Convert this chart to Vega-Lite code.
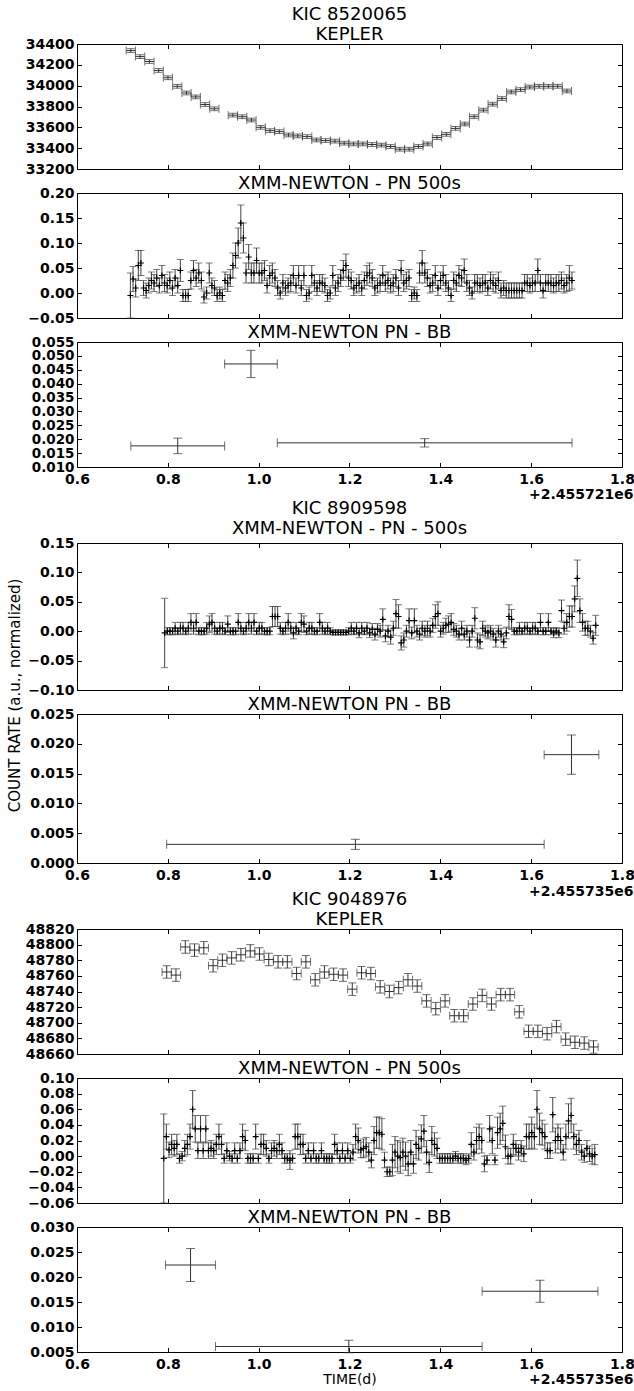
{
"$schema": "https://vega.github.io/schema/vega-lite/v6.json",
"autosize": {"type": "pad"},
"padding": {"top": 5, "left": 6, "right": 0, "bottom": 0},
"config": {
  "view": {"stroke": "black", "strokeWidth": 1},
  "font": "DejaVu Sans",
  "axis": {"grid": false, "domain": false, "ticks": true, "tickSize": -4.5, "tickColor": "black", "tickWidth": 1, "labelFont": "DejaVu Sans", "labelFontSize": 14, "labelFontWeight": "bold", "labelColor": "black", "labelPadding": 3, "labelFlush": false, "labelOverlap": false, "titleFont": "DejaVu Sans", "titleFontWeight": "normal", "titleColor": "black"},
  "title": {"font": "DejaVu Sans", "fontSize": 18, "fontWeight": "normal", "color": "black", "lineHeight": 20, "baseline": "bottom", "anchor": "middle", "frame": "group", "offset": -7}
},
"vconcat": [
{
  "width": 545, "height": 125,
  "title": {"text": ["KIC 8520065", "KEPLER"]},
  "data": {"values": [
    {"x":0.7185,"y":34337,"e":18,"xe":0.0102},{"x":0.7389,"y":34279,"e":18,"xe":0.0102},{"x":0.7594,"y":34232,"e":18,"xe":0.0102},{"x":0.7798,"y":34146,"e":18,"xe":0.0102},{"x":0.8002,"y":34076,"e":18,"xe":0.0102},{"x":0.8207,"y":33994,"e":18,"xe":0.0102},{"x":0.8411,"y":33930,"e":18,"xe":0.0102},{"x":0.8615,"y":33892,"e":18,"xe":0.0102},{"x":0.8819,"y":33819,"e":18,"xe":0.0102},{"x":0.9024,"y":33778,"e":18,"xe":0.0102},
    {"x":0.9432,"y":33717,"e":18,"xe":0.0102},{"x":0.9637,"y":33702,"e":18,"xe":0.0102},{"x":0.9841,"y":33670,"e":18,"xe":0.0102},{"x":1.0045,"y":33600,"e":18,"xe":0.0102},{"x":1.0250,"y":33568,"e":18,"xe":0.0102},{"x":1.0454,"y":33559,"e":18,"xe":0.0102},{"x":1.0658,"y":33527,"e":18,"xe":0.0102},{"x":1.0862,"y":33518,"e":18,"xe":0.0102},{"x":1.1067,"y":33511,"e":18,"xe":0.0102},{"x":1.1271,"y":33479,"e":18,"xe":0.0102},
    {"x":1.1475,"y":33473,"e":18,"xe":0.0102},{"x":1.1680,"y":33467,"e":18,"xe":0.0102},{"x":1.1884,"y":33448,"e":18,"xe":0.0102},{"x":1.2088,"y":33441,"e":18,"xe":0.0102},{"x":1.2293,"y":33441,"e":18,"xe":0.0102},{"x":1.2497,"y":33435,"e":18,"xe":0.0102},{"x":1.2701,"y":33429,"e":18,"xe":0.0102},{"x":1.2905,"y":33416,"e":18,"xe":0.0102},{"x":1.3110,"y":33390,"e":18,"xe":0.0102},{"x":1.3314,"y":33390,"e":18,"xe":0.0102},
    {"x":1.3518,"y":33416,"e":18,"xe":0.0102},{"x":1.3723,"y":33441,"e":18,"xe":0.0102},{"x":1.3927,"y":33502,"e":18,"xe":0.0102},{"x":1.4131,"y":33533,"e":18,"xe":0.0102},{"x":1.4336,"y":33590,"e":18,"xe":0.0102},{"x":1.4540,"y":33632,"e":18,"xe":0.0102},{"x":1.4744,"y":33702,"e":18,"xe":0.0102},{"x":1.4948,"y":33765,"e":18,"xe":0.0102},{"x":1.5153,"y":33822,"e":18,"xe":0.0102},{"x":1.5357,"y":33876,"e":18,"xe":0.0102},
    {"x":1.5561,"y":33940,"e":18,"xe":0.0102},{"x":1.5766,"y":33962,"e":18,"xe":0.0102},{"x":1.5970,"y":33987,"e":18,"xe":0.0102},{"x":1.6174,"y":33994,"e":18,"xe":0.0102},{"x":1.6379,"y":33994,"e":18,"xe":0.0102},{"x":1.6583,"y":33994,"e":18,"xe":0.0102},{"x":1.6787,"y":33949,"e":18,"xe":0.0102}
  ]},
  "resolve": {"axis": {"x": "independent", "y": "independent"}},
  "layer": [
    {"mark": {"type": "errorbar", "color": "#333", "thickness": 1, "ticks": {"size": 8, "color": "#333"}},
     "encoding": {
       "x": {"field": "x", "type": "quantitative", "scale": {"domain": [0.6, 1.8], "nice": false, "zero": false}, "axis": {"values": [0.6,0.8,1.0,1.2,1.4,1.6,1.8], "labels": false, "ticks": false, "title": null}},
       "y": {"field": "y", "type": "quantitative", "scale": {"domain": [33200, 34400], "nice": false, "zero": false}, "axis": {"values": [33200,33400,33600,33800,34000,34200,34400], "format": "d", "ticks": false, "title": null}},
       "yError": {"field": "e"}}},
    {"mark": {"type": "errorbar", "color": "#333", "thickness": 1, "ticks": {"size": 8, "color": "#333"}},
     "encoding": {
       "x": {"field": "x", "type": "quantitative", "axis": {"orient": "top", "values": [0.6,0.8,1.0,1.2,1.4,1.6,1.8], "labels": false, "title": null}},
       "xError": {"field": "xe"},
       "y": {"field": "y", "type": "quantitative", "axis": {"orient": "right", "values": [33200,33400,33600,33800,34000,34200,34400], "labels": false, "title": null}}}},
    {"mark": {"type": "point", "opacity": 0},
     "encoding": {
       "x": {"field": "x", "type": "quantitative", "axis": {"values": [0.6,0.8,1.0,1.2,1.4,1.6,1.8], "labels": false, "title": null}},
       "y": {"field": "y", "type": "quantitative", "axis": {"values": [33200,33400,33600,33800,34000,34200,34400], "labels": false, "title": null}}}}
  ]
},
{
  "width": 545, "height": 125,
  "title": {"text": "XMM-NEWTON - PN 500s"},
  "data": {"values": [
    {"x":0.7176,"y":-0.005,"e":0.045},{"x":0.7234,"y":0.028,"e":0.025},{"x":0.7292,"y":0.010,"e":0.018},{"x":0.7350,"y":0.055,"e":0.030},{"x":0.7407,"y":0.060,"e":0.025},{"x":0.7465,"y":0.010,"e":0.015},{"x":0.7523,"y":0.005,"e":0.015},{"x":0.7581,"y":0.015,"e":0.015},{"x":0.7639,"y":0.025,"e":0.017},{"x":0.7697,"y":0.020,"e":0.017},
    {"x":0.7755,"y":0.030,"e":0.017},{"x":0.7813,"y":0.015,"e":0.015},{"x":0.7870,"y":0.035,"e":0.020},{"x":0.7928,"y":0.020,"e":0.017},{"x":0.7986,"y":0.015,"e":0.015},{"x":0.8044,"y":0.025,"e":0.017},{"x":0.8102,"y":0.010,"e":0.015},{"x":0.8160,"y":0.030,"e":0.017},{"x":0.8218,"y":0.015,"e":0.015},{"x":0.8276,"y":0.045,"e":0.022},
    {"x":0.8333,"y":-0.005,"e":0.012},{"x":0.8391,"y":-0.005,"e":0.012},{"x":0.8449,"y":-0.005,"e":0.012},{"x":0.8507,"y":0.025,"e":0.017},{"x":0.8565,"y":0.045,"e":0.020},{"x":0.8623,"y":0.030,"e":0.017},{"x":0.8681,"y":0.040,"e":0.020},{"x":0.8739,"y":0.025,"e":0.017},{"x":0.8796,"y":-0.008,"e":0.012},{"x":0.8854,"y":0.000,"e":0.012},
    {"x":0.8912,"y":0.040,"e":0.020},{"x":0.8970,"y":0.015,"e":0.015},{"x":0.9028,"y":0.010,"e":0.015},{"x":0.9086,"y":-0.005,"e":0.012},{"x":0.9144,"y":0.000,"e":0.012},{"x":0.9201,"y":-0.005,"e":0.012},{"x":0.9259,"y":0.025,"e":0.017},{"x":0.9317,"y":0.020,"e":0.017},{"x":0.9375,"y":0.030,"e":0.017},{"x":0.9433,"y":0.055,"e":0.025},
    {"x":0.9491,"y":0.075,"e":0.025},{"x":0.9549,"y":0.100,"e":0.030},{"x":0.9607,"y":0.140,"e":0.036},{"x":0.9664,"y":0.110,"e":0.030},{"x":0.9722,"y":0.040,"e":0.020},{"x":0.9780,"y":0.072,"e":0.025},{"x":0.9838,"y":0.040,"e":0.020},{"x":0.9896,"y":0.040,"e":0.020},{"x":0.9954,"y":0.065,"e":0.025},{"x":1.0012,"y":0.040,"e":0.020},
    {"x":1.0070,"y":0.040,"e":0.020},{"x":1.0127,"y":0.045,"e":0.020},{"x":1.0185,"y":0.015,"e":0.015},{"x":1.0243,"y":0.035,"e":0.020},{"x":1.0301,"y":0.040,"e":0.020},{"x":1.0359,"y":0.030,"e":0.017},{"x":1.0417,"y":0.010,"e":0.015},{"x":1.0475,"y":0.000,"e":0.012},{"x":1.0533,"y":0.020,"e":0.017},{"x":1.0590,"y":0.010,"e":0.015},
    {"x":1.0648,"y":0.015,"e":0.015},{"x":1.0706,"y":0.020,"e":0.017},{"x":1.0764,"y":0.035,"e":0.020},{"x":1.0822,"y":0.015,"e":0.015},{"x":1.0880,"y":0.035,"e":0.020},{"x":1.0938,"y":0.010,"e":0.015},{"x":1.0996,"y":0.035,"e":0.020},{"x":1.1053,"y":-0.005,"e":0.012},{"x":1.1111,"y":0.000,"e":0.012},{"x":1.1169,"y":0.035,"e":0.020},
    {"x":1.1227,"y":0.020,"e":0.017},{"x":1.1285,"y":0.010,"e":0.015},{"x":1.1343,"y":0.020,"e":0.017},{"x":1.1401,"y":0.020,"e":0.017},{"x":1.1458,"y":0.015,"e":0.015},{"x":1.1516,"y":-0.005,"e":0.012},{"x":1.1574,"y":0.000,"e":0.012},{"x":1.1632,"y":0.035,"e":0.020},{"x":1.1690,"y":0.010,"e":0.015},{"x":1.1748,"y":0.020,"e":0.017},
    {"x":1.1806,"y":0.030,"e":0.017},{"x":1.1864,"y":0.045,"e":0.020},{"x":1.1921,"y":0.055,"e":0.023},{"x":1.1979,"y":0.030,"e":0.017},{"x":1.2037,"y":0.025,"e":0.017},{"x":1.2095,"y":0.010,"e":0.015},{"x":1.2153,"y":0.015,"e":0.015},{"x":1.2211,"y":0.020,"e":0.017},{"x":1.2269,"y":0.010,"e":0.015},{"x":1.2327,"y":0.025,"e":0.017},
    {"x":1.2384,"y":0.035,"e":0.020},{"x":1.2442,"y":0.040,"e":0.020},{"x":1.2500,"y":0.030,"e":0.017},{"x":1.2558,"y":0.010,"e":0.015},{"x":1.2616,"y":0.015,"e":0.015},{"x":1.2674,"y":0.020,"e":0.017},{"x":1.2732,"y":0.035,"e":0.020},{"x":1.2789,"y":0.020,"e":0.017},{"x":1.2847,"y":0.025,"e":0.017},{"x":1.2905,"y":0.015,"e":0.015},
    {"x":1.2963,"y":0.020,"e":0.017},{"x":1.3021,"y":0.030,"e":0.017},{"x":1.3079,"y":0.010,"e":0.015},{"x":1.3137,"y":0.045,"e":0.020},{"x":1.3195,"y":0.020,"e":0.017},{"x":1.3252,"y":0.025,"e":0.017},{"x":1.3310,"y":0.030,"e":0.017},{"x":1.3368,"y":-0.005,"e":0.012},{"x":1.3426,"y":0.000,"e":0.012},{"x":1.3484,"y":-0.005,"e":0.012},
    {"x":1.3542,"y":0.040,"e":0.020},{"x":1.3600,"y":0.060,"e":0.025},{"x":1.3658,"y":0.040,"e":0.020},{"x":1.3715,"y":0.030,"e":0.017},{"x":1.3773,"y":0.015,"e":0.015},{"x":1.3831,"y":0.020,"e":0.017},{"x":1.3889,"y":0.035,"e":0.020},{"x":1.3947,"y":0.010,"e":0.015},{"x":1.4005,"y":0.025,"e":0.017},{"x":1.4063,"y":0.035,"e":0.020},
    {"x":1.4120,"y":0.020,"e":0.017},{"x":1.4178,"y":0.010,"e":0.015},{"x":1.4236,"y":-0.005,"e":0.012},{"x":1.4294,"y":0.025,"e":0.017},{"x":1.4352,"y":0.020,"e":0.017},{"x":1.4410,"y":0.035,"e":0.020},{"x":1.4468,"y":0.030,"e":0.017},{"x":1.4526,"y":0.045,"e":0.023},{"x":1.4583,"y":0.020,"e":0.017},{"x":1.4641,"y":0.010,"e":0.015},
    {"x":1.4699,"y":0.000,"e":0.012},{"x":1.4757,"y":0.020,"e":0.017},{"x":1.4815,"y":0.020,"e":0.017},{"x":1.4873,"y":0.015,"e":0.015},{"x":1.4931,"y":0.020,"e":0.017},{"x":1.4988,"y":0.020,"e":0.017},{"x":1.5046,"y":0.010,"e":0.015},{"x":1.5104,"y":0.025,"e":0.017},{"x":1.5162,"y":0.020,"e":0.017},{"x":1.5220,"y":0.015,"e":0.015},
    {"x":1.5278,"y":0.025,"e":0.017},{"x":1.5336,"y":0.005,"e":0.015},{"x":1.5394,"y":0.010,"e":0.015},{"x":1.5451,"y":0.005,"e":0.015},{"x":1.5509,"y":0.005,"e":0.015},{"x":1.5567,"y":0.005,"e":0.015},{"x":1.5625,"y":0.005,"e":0.015},{"x":1.5683,"y":0.005,"e":0.015},{"x":1.5741,"y":0.005,"e":0.015},{"x":1.5799,"y":0.005,"e":0.015},
    {"x":1.5856,"y":0.020,"e":0.017},{"x":1.5914,"y":0.020,"e":0.017},{"x":1.5972,"y":0.015,"e":0.015},{"x":1.6030,"y":0.020,"e":0.017},{"x":1.6088,"y":0.020,"e":0.017},{"x":1.6146,"y":0.045,"e":0.023},{"x":1.6204,"y":0.020,"e":0.017},{"x":1.6262,"y":0.005,"e":0.015},{"x":1.6319,"y":0.020,"e":0.017},{"x":1.6377,"y":0.020,"e":0.017},
    {"x":1.6435,"y":0.020,"e":0.017},{"x":1.6493,"y":0.015,"e":0.015},{"x":1.6551,"y":0.020,"e":0.017},{"x":1.6609,"y":0.020,"e":0.017},{"x":1.6667,"y":0.025,"e":0.017},{"x":1.6724,"y":0.015,"e":0.015},{"x":1.6782,"y":0.020,"e":0.017},{"x":1.6840,"y":0.030,"e":0.025},{"x":1.6898,"y":0.025,"e":0.017}
  ]},
  "resolve": {"axis": {"x": "independent", "y": "independent"}},
  "layer": [
    {"mark": {"type": "errorbar", "color": "#444", "thickness": 1, "ticks": {"size": 7, "color": "#444"}},
     "encoding": {
       "x": {"field": "x", "type": "quantitative", "scale": {"domain": [0.6, 1.8], "nice": false, "zero": false}, "axis": {"values": [0.6,0.8,1.0,1.2,1.4,1.6,1.8], "labels": false, "ticks": false, "title": null}},
       "y": {"field": "y", "type": "quantitative", "scale": {"domain": [-0.05, 0.2], "nice": false, "zero": false}, "axis": {"values": [-0.05,0,0.05,0.1,0.15,0.2], "format": ".2f", "ticks": false, "title": null}},
       "yError": {"field": "e"}}},
    {"mark": {"type": "point", "shape": "M-1,0H1M0,-1V1", "filled": false, "size": 36, "color": "black", "strokeWidth": 1.2, "opacity": 1},
     "encoding": {
       "x": {"field": "x", "type": "quantitative", "axis": {"orient": "top", "values": [0.6,0.8,1.0,1.2,1.4,1.6,1.8], "labels": false, "title": null}},
       "y": {"field": "y", "type": "quantitative", "axis": {"orient": "right", "values": [-0.05,0,0.05,0.1,0.15,0.2], "labels": false, "title": null}}}},
    {"mark": {"type": "point", "opacity": 0},
     "encoding": {
       "x": {"field": "x", "type": "quantitative", "axis": {"values": [0.6,0.8,1.0,1.2,1.4,1.6,1.8], "labels": false, "title": null}},
       "y": {"field": "y", "type": "quantitative", "axis": {"values": [-0.05,0,0.05,0.1,0.15,0.2], "labels": false, "title": null}}}}
  ]
},
{
  "width": 545, "height": 125,
  "title": {"text": "XMM-NEWTON PN - BB"},
  "data": {"values": [
    {"x":0.8218,"y":0.0176,"e":0.0028,"xe":0.1033},{"x":0.9830,"y":0.0471,"e":0.0049,"xe":0.0580},{"x":1.3655,"y":0.0187,"e":0.0015,"xe":0.3245}
  ]},
  "resolve": {"axis": {"x": "independent", "y": "independent"}},
  "layer": [
    {"mark": {"type": "errorbar", "color": "#333", "thickness": 1, "ticks": {"size": 9, "color": "#333"}},
     "encoding": {
       "x": {"field": "x", "type": "quantitative", "scale": {"domain": [0.6, 1.8], "nice": false, "zero": false}, "axis": {"values": [0.6,0.8,1.0,1.2,1.4,1.6,1.8], "format": ".1f", "ticks": false, "labelPadding": 5, "title": "+2.455721e6", "titleX": 556, "titleY": 20, "titleAlign": "right", "titleBaseline": "top", "titleFontSize": 14, "titleFontWeight": "bold"}},
       "y": {"field": "y", "type": "quantitative", "scale": {"domain": [0.01, 0.055], "nice": false, "zero": false}, "axis": {"values": [0.01,0.015,0.02,0.025,0.03,0.035,0.04,0.045,0.05,0.055], "format": ".3f", "ticks": false, "labelFontSize": 13.5, "title": null}},
       "yError": {"field": "e"}}},
    {"mark": {"type": "errorbar", "color": "#333", "thickness": 1, "ticks": {"size": 9, "color": "#333"}},
     "encoding": {
       "x": {"field": "x", "type": "quantitative", "axis": {"orient": "top", "values": [0.6,0.8,1.0,1.2,1.4,1.6,1.8], "labels": false, "title": null}},
       "xError": {"field": "xe"},
       "y": {"field": "y", "type": "quantitative", "axis": {"orient": "right", "values": [0.01,0.015,0.02,0.025,0.03,0.035,0.04,0.045,0.05,0.055], "labels": false, "title": null}}}},
    {"mark": {"type": "point", "opacity": 0},
     "encoding": {
       "x": {"field": "x", "type": "quantitative", "axis": {"values": [0.6,0.8,1.0,1.2,1.4,1.6,1.8], "labels": false, "title": null}},
       "y": {"field": "y", "type": "quantitative", "axis": {"values": [0.01,0.015,0.02,0.025,0.03,0.035,0.04,0.045,0.05,0.055], "labels": false, "title": null}}}}
  ]
},
{
  "width": 545, "height": 28, "view": {"stroke": null},
  "data": {"values": [{"a": 1}]},
  "mark": {"type": "text", "text": ""}
},
{
  "width": 545, "height": 147,
  "title": {"text": ["KIC 8909598", "XMM-NEWTON - PN - 500s"], "offset": -2},
  "data": {"values": [
    {"x":0.7930,"y":-0.003,"e":0.059},{"x":0.7988,"y":0.000,"e":0.006},{"x":0.8046,"y":0.000,"e":0.006},{"x":0.8104,"y":0.000,"e":0.006},{"x":0.8161,"y":0.005,"e":0.010},{"x":0.8219,"y":0.000,"e":0.006},{"x":0.8277,"y":0.005,"e":0.010},{"x":0.8335,"y":0.005,"e":0.010},{"x":0.8393,"y":0.000,"e":0.006},{"x":0.8451,"y":0.005,"e":0.010},
    {"x":0.8509,"y":0.015,"e":0.015},{"x":0.8567,"y":0.005,"e":0.010},{"x":0.8624,"y":0.015,"e":0.015},{"x":0.8682,"y":0.000,"e":0.006},{"x":0.8740,"y":0.000,"e":0.006},{"x":0.8798,"y":0.000,"e":0.006},{"x":0.8856,"y":0.005,"e":0.010},{"x":0.8914,"y":0.012,"e":0.014},{"x":0.8972,"y":0.015,"e":0.015},{"x":0.9030,"y":0.005,"e":0.010},
    {"x":0.9087,"y":0.000,"e":0.006},{"x":0.9145,"y":0.005,"e":0.010},{"x":0.9203,"y":0.005,"e":0.010},{"x":0.9261,"y":0.000,"e":0.006},{"x":0.9319,"y":0.012,"e":0.014},{"x":0.9377,"y":0.000,"e":0.006},{"x":0.9435,"y":0.000,"e":0.006},{"x":0.9492,"y":0.000,"e":0.006},{"x":0.9550,"y":0.015,"e":0.015},{"x":0.9608,"y":0.005,"e":0.010},
    {"x":0.9666,"y":0.000,"e":0.006},{"x":0.9724,"y":0.005,"e":0.010},{"x":0.9782,"y":0.015,"e":0.015},{"x":0.9840,"y":0.005,"e":0.010},{"x":0.9898,"y":0.015,"e":0.015},{"x":0.9955,"y":0.000,"e":0.006},{"x":1.0013,"y":0.005,"e":0.010},{"x":1.0071,"y":0.005,"e":0.010},{"x":1.0129,"y":0.000,"e":0.006},{"x":1.0187,"y":0.000,"e":0.006},
    {"x":1.0245,"y":0.000,"e":0.006},{"x":1.0303,"y":0.025,"e":0.017},{"x":1.0361,"y":0.025,"e":0.017},{"x":1.0418,"y":0.025,"e":0.017},{"x":1.0476,"y":0.005,"e":0.010},{"x":1.0534,"y":0.000,"e":0.006},{"x":1.0592,"y":0.005,"e":0.010},{"x":1.0650,"y":0.015,"e":0.015},{"x":1.0708,"y":0.005,"e":0.010},{"x":1.0766,"y":-0.003,"e":0.010},
    {"x":1.0824,"y":0.005,"e":0.010},{"x":1.0881,"y":0.000,"e":0.006},{"x":1.0939,"y":0.015,"e":0.015},{"x":1.0997,"y":0.012,"e":0.014},{"x":1.1055,"y":0.000,"e":0.006},{"x":1.1113,"y":0.005,"e":0.010},{"x":1.1171,"y":0.005,"e":0.010},{"x":1.1229,"y":0.000,"e":0.006},{"x":1.1286,"y":0.000,"e":0.006},{"x":1.1344,"y":0.015,"e":0.015},
    {"x":1.1402,"y":0.005,"e":0.010},{"x":1.1460,"y":0.000,"e":0.006},{"x":1.1518,"y":0.005,"e":0.010},{"x":1.1576,"y":0.000,"e":0.006},{"x":1.1634,"y":-0.002,"e":0.004},{"x":1.1692,"y":-0.002,"e":0.004},{"x":1.1749,"y":-0.002,"e":0.004},{"x":1.1807,"y":-0.002,"e":0.004},{"x":1.1865,"y":-0.002,"e":0.004},{"x":1.1923,"y":-0.002,"e":0.004},
    {"x":1.1981,"y":0.000,"e":0.006},{"x":1.2039,"y":0.005,"e":0.010},{"x":1.2097,"y":0.000,"e":0.006},{"x":1.2155,"y":0.005,"e":0.010},{"x":1.2212,"y":-0.003,"e":0.008},{"x":1.2270,"y":0.005,"e":0.010},{"x":1.2328,"y":0.000,"e":0.006},{"x":1.2386,"y":0.005,"e":0.010},{"x":1.2444,"y":-0.003,"e":0.008},{"x":1.2502,"y":0.003,"e":0.010},
    {"x":1.2560,"y":-0.005,"e":0.010},{"x":1.2617,"y":0.003,"e":0.010},{"x":1.2675,"y":0.000,"e":0.010},{"x":1.2733,"y":0.020,"e":0.018},{"x":1.2791,"y":-0.008,"e":0.010},{"x":1.2849,"y":0.000,"e":0.010},{"x":1.2907,"y":-0.010,"e":0.012},{"x":1.2965,"y":0.005,"e":0.012},{"x":1.3023,"y":0.030,"e":0.024},{"x":1.3080,"y":0.025,"e":0.020},
    {"x":1.3138,"y":-0.020,"e":0.012},{"x":1.3196,"y":-0.015,"e":0.012},{"x":1.3254,"y":0.000,"e":0.010},{"x":1.3312,"y":0.018,"e":0.020},{"x":1.3370,"y":-0.003,"e":0.010},{"x":1.3428,"y":0.018,"e":0.020},{"x":1.3486,"y":0.000,"e":0.010},{"x":1.3543,"y":-0.005,"e":0.010},{"x":1.3601,"y":0.005,"e":0.012},{"x":1.3659,"y":0.000,"e":0.010},
    {"x":1.3717,"y":0.005,"e":0.012},{"x":1.3775,"y":0.000,"e":0.010},{"x":1.3833,"y":0.010,"e":0.012},{"x":1.3891,"y":0.025,"e":0.020},{"x":1.3948,"y":0.030,"e":0.020},{"x":1.4006,"y":0.000,"e":0.010},{"x":1.4064,"y":0.005,"e":0.010},{"x":1.4122,"y":0.010,"e":0.012},{"x":1.4180,"y":0.012,"e":0.014},{"x":1.4238,"y":0.015,"e":0.015},
    {"x":1.4296,"y":0.003,"e":0.010},{"x":1.4354,"y":0.000,"e":0.010},{"x":1.4411,"y":-0.005,"e":0.010},{"x":1.4469,"y":0.005,"e":0.012},{"x":1.4527,"y":-0.005,"e":0.010},{"x":1.4585,"y":0.000,"e":0.010},{"x":1.4643,"y":-0.015,"e":0.012},{"x":1.4701,"y":0.000,"e":0.010},{"x":1.4759,"y":0.022,"e":0.018},{"x":1.4817,"y":-0.015,"e":0.012},
    {"x":1.4874,"y":-0.018,"e":0.012},{"x":1.4932,"y":0.005,"e":0.012},{"x":1.4990,"y":0.000,"e":0.010},{"x":1.5048,"y":-0.003,"e":0.010},{"x":1.5106,"y":0.000,"e":0.010},{"x":1.5164,"y":-0.005,"e":0.010},{"x":1.5222,"y":-0.015,"e":0.012},{"x":1.5279,"y":0.000,"e":0.010},{"x":1.5337,"y":-0.005,"e":0.010},{"x":1.5395,"y":-0.018,"e":0.010},
    {"x":1.5453,"y":-0.003,"e":0.010},{"x":1.5511,"y":0.025,"e":0.020},{"x":1.5569,"y":0.020,"e":0.017},{"x":1.5627,"y":0.000,"e":0.006},{"x":1.5685,"y":0.000,"e":0.006},{"x":1.5742,"y":0.005,"e":0.010},{"x":1.5800,"y":0.000,"e":0.006},{"x":1.5858,"y":0.005,"e":0.010},{"x":1.5916,"y":0.005,"e":0.010},{"x":1.5974,"y":0.000,"e":0.006},
    {"x":1.6032,"y":0.005,"e":0.010},{"x":1.6090,"y":0.005,"e":0.010},{"x":1.6148,"y":0.000,"e":0.006},{"x":1.6205,"y":0.015,"e":0.015},{"x":1.6263,"y":0.000,"e":0.006},{"x":1.6321,"y":0.000,"e":0.006},{"x":1.6379,"y":0.015,"e":0.015},{"x":1.6437,"y":0.000,"e":0.006},{"x":1.6495,"y":-0.003,"e":0.008},{"x":1.6553,"y":0.000,"e":0.006},
    {"x":1.6610,"y":-0.003,"e":0.008},{"x":1.6668,"y":0.035,"e":0.018},{"x":1.6726,"y":0.005,"e":0.010},{"x":1.6784,"y":0.015,"e":0.015},{"x":1.6842,"y":0.025,"e":0.018},{"x":1.6900,"y":0.025,"e":0.018},{"x":1.6958,"y":0.055,"e":0.022},{"x":1.7016,"y":0.090,"e":0.031},{"x":1.7073,"y":0.035,"e":0.020},{"x":1.7131,"y":0.015,"e":0.015},
    {"x":1.7189,"y":0.005,"e":0.012},{"x":1.7247,"y":0.005,"e":0.012},{"x":1.7305,"y":0.000,"e":0.010},{"x":1.7363,"y":-0.012,"e":0.010},{"x":1.7421,"y":0.010,"e":0.017}
  ]},
  "resolve": {"axis": {"x": "independent", "y": "independent"}},
  "layer": [
    {"mark": {"type": "errorbar", "color": "#444", "thickness": 1, "ticks": {"size": 7, "color": "#444"}},
     "encoding": {
       "x": {"field": "x", "type": "quantitative", "scale": {"domain": [0.6, 1.8], "nice": false, "zero": false}, "axis": {"values": [0.6,0.8,1.0,1.2,1.4,1.6,1.8], "labels": false, "ticks": false, "title": null}},
       "y": {"field": "y", "type": "quantitative", "scale": {"domain": [-0.1, 0.15], "nice": false, "zero": false}, "axis": {"values": [-0.1,-0.05,0,0.05,0.1,0.15], "format": ".2f", "ticks": false, "title": "COUNT RATE (a.u., normalized)", "titleFontSize": 15, "titleAngle": -90, "titleX": -63, "titleY": 152, "titleAlign": "center", "titleBaseline": "middle"}},
       "yError": {"field": "e"}}},
    {"mark": {"type": "point", "shape": "M-1,0H1M0,-1V1", "filled": false, "size": 36, "color": "black", "strokeWidth": 1.2, "opacity": 1},
     "encoding": {
       "x": {"field": "x", "type": "quantitative", "axis": {"orient": "top", "values": [0.6,0.8,1.0,1.2,1.4,1.6,1.8], "labels": false, "title": null}},
       "y": {"field": "y", "type": "quantitative", "axis": {"orient": "right", "values": [-0.1,-0.05,0,0.05,0.1,0.15], "labels": false, "title": null}}}},
    {"mark": {"type": "point", "opacity": 0},
     "encoding": {
       "x": {"field": "x", "type": "quantitative", "axis": {"values": [0.6,0.8,1.0,1.2,1.4,1.6,1.8], "labels": false, "title": null}},
       "y": {"field": "y", "type": "quantitative", "axis": {"values": [-0.1,-0.05,0,0.05,0.1,0.15], "labels": false, "title": null}}}}
  ]
},
{
  "width": 545, "height": 149,
  "title": {"text": "XMM-NEWTON PN - BB"},
  "data": {"values": [
    {"x":1.2130,"y":0.00313,"e":0.00085,"xe":0.4156},{"x":1.6888,"y":0.01818,"e":0.0033,"xe":0.0602}
  ]},
  "resolve": {"axis": {"x": "independent", "y": "independent"}},
  "layer": [
    {"mark": {"type": "errorbar", "color": "#333", "thickness": 1, "ticks": {"size": 9, "color": "#333"}},
     "encoding": {
       "x": {"field": "x", "type": "quantitative", "scale": {"domain": [0.6, 1.8], "nice": false, "zero": false}, "axis": {"values": [0.6,0.8,1.0,1.2,1.4,1.6,1.8], "format": ".1f", "ticks": false, "labelPadding": 5, "title": "+2.455735e6", "titleX": 556, "titleY": 21, "titleAlign": "right", "titleBaseline": "top", "titleFontSize": 14, "titleFontWeight": "bold"}},
       "y": {"field": "y", "type": "quantitative", "scale": {"domain": [0, 0.025], "nice": false, "zero": false}, "axis": {"values": [0,0.005,0.01,0.015,0.02,0.025], "format": ".3f", "ticks": false, "title": null}},
       "yError": {"field": "e"}}},
    {"mark": {"type": "errorbar", "color": "#333", "thickness": 1, "ticks": {"size": 9, "color": "#333"}},
     "encoding": {
       "x": {"field": "x", "type": "quantitative", "axis": {"orient": "top", "values": [0.6,0.8,1.0,1.2,1.4,1.6,1.8], "labels": false, "title": null}},
       "xError": {"field": "xe"},
       "y": {"field": "y", "type": "quantitative", "axis": {"orient": "right", "values": [0,0.005,0.01,0.015,0.02,0.025], "labels": false, "title": null}}}},
    {"mark": {"type": "point", "opacity": 0},
     "encoding": {
       "x": {"field": "x", "type": "quantitative", "axis": {"values": [0.6,0.8,1.0,1.2,1.4,1.6,1.8], "labels": false, "title": null}},
       "y": {"field": "y", "type": "quantitative", "axis": {"values": [0,0.005,0.01,0.015,0.02,0.025], "labels": false, "title": null}}}}
  ]
},
{
  "width": 545, "height": 18, "view": {"stroke": null},
  "data": {"values": [{"a": 1}]},
  "mark": {"type": "text", "text": ""}
},
{
  "width": 545, "height": 125,
  "title": {"text": ["KIC 9048976", "KEPLER"]},
  "data": {"values": [
    {"x":0.7975,"y":48765,"e":8,"xe":0.0102},{"x":0.8179,"y":48761,"e":8,"xe":0.0102},{"x":0.8384,"y":48797,"e":8,"xe":0.0102},{"x":0.8588,"y":48793,"e":8,"xe":0.0102},{"x":0.8792,"y":48796,"e":8,"xe":0.0102},{"x":0.8997,"y":48773,"e":8,"xe":0.0102},{"x":0.9201,"y":48780,"e":8,"xe":0.0102},{"x":0.9405,"y":48783,"e":8,"xe":0.0102},{"x":0.9609,"y":48787,"e":8,"xe":0.0102},{"x":0.9814,"y":48792,"e":8,"xe":0.0102},
    {"x":1.0018,"y":48788,"e":8,"xe":0.0102},{"x":1.0222,"y":48781,"e":8,"xe":0.0102},{"x":1.0427,"y":48778,"e":8,"xe":0.0102},{"x":1.0631,"y":48778,"e":8,"xe":0.0102},{"x":1.0835,"y":48763,"e":8,"xe":0.0102},{"x":1.1040,"y":48778,"e":8,"xe":0.0102},{"x":1.1244,"y":48755,"e":8,"xe":0.0102},{"x":1.1448,"y":48765,"e":8,"xe":0.0102},{"x":1.1652,"y":48762,"e":8,"xe":0.0102},{"x":1.1857,"y":48761,"e":8,"xe":0.0102},
    {"x":1.2061,"y":48743,"e":8,"xe":0.0102},{"x":1.2265,"y":48764,"e":8,"xe":0.0102},{"x":1.2470,"y":48763,"e":8,"xe":0.0102},{"x":1.2674,"y":48746,"e":8,"xe":0.0102},{"x":1.2878,"y":48740,"e":8,"xe":0.0102},{"x":1.3083,"y":48745,"e":8,"xe":0.0102},{"x":1.3287,"y":48755,"e":8,"xe":0.0102},{"x":1.3491,"y":48747,"e":8,"xe":0.0102},{"x":1.3695,"y":48728,"e":8,"xe":0.0102},{"x":1.3900,"y":48718,"e":8,"xe":0.0102},
    {"x":1.4104,"y":48728,"e":8,"xe":0.0102},{"x":1.4308,"y":48709,"e":8,"xe":0.0102},{"x":1.4513,"y":48709,"e":8,"xe":0.0102},{"x":1.4717,"y":48724,"e":8,"xe":0.0102},{"x":1.4921,"y":48735,"e":8,"xe":0.0102},{"x":1.5126,"y":48724,"e":8,"xe":0.0102},{"x":1.5330,"y":48736,"e":8,"xe":0.0102},{"x":1.5534,"y":48736,"e":8,"xe":0.0102},{"x":1.5738,"y":48714,"e":8,"xe":0.0102},{"x":1.5943,"y":48689,"e":8,"xe":0.0102},
    {"x":1.6147,"y":48689,"e":8,"xe":0.0102},{"x":1.6351,"y":48686,"e":8,"xe":0.0102},{"x":1.6556,"y":48695,"e":8,"xe":0.0102},{"x":1.6760,"y":48679,"e":8,"xe":0.0102},{"x":1.6964,"y":48675,"e":8,"xe":0.0102},{"x":1.7168,"y":48674,"e":8,"xe":0.0102},{"x":1.7373,"y":48669,"e":8,"xe":0.0102}
  ]},
  "resolve": {"axis": {"x": "independent", "y": "independent"}},
  "layer": [
    {"mark": {"type": "errorbar", "color": "#333", "thickness": 1, "ticks": {"size": 8, "color": "#333"}},
     "encoding": {
       "x": {"field": "x", "type": "quantitative", "scale": {"domain": [0.6, 1.8], "nice": false, "zero": false}, "axis": {"values": [0.6,0.8,1.0,1.2,1.4,1.6,1.8], "labels": false, "ticks": false, "title": null}},
       "y": {"field": "y", "type": "quantitative", "scale": {"domain": [48660, 48820], "nice": false, "zero": false}, "axis": {"values": [48660,48680,48700,48720,48740,48760,48780,48800,48820], "format": "d", "ticks": false, "title": null}},
       "yError": {"field": "e"}}},
    {"mark": {"type": "errorbar", "color": "#333", "thickness": 1, "ticks": {"size": 8, "color": "#333"}},
     "encoding": {
       "x": {"field": "x", "type": "quantitative", "axis": {"orient": "top", "values": [0.6,0.8,1.0,1.2,1.4,1.6,1.8], "labels": false, "title": null}},
       "xError": {"field": "xe"},
       "y": {"field": "y", "type": "quantitative", "axis": {"orient": "right", "values": [48660,48680,48700,48720,48740,48760,48780,48800,48820], "labels": false, "title": null}}}},
    {"mark": {"type": "point", "opacity": 0},
     "encoding": {
       "x": {"field": "x", "type": "quantitative", "axis": {"values": [0.6,0.8,1.0,1.2,1.4,1.6,1.8], "labels": false, "title": null}},
       "y": {"field": "y", "type": "quantitative", "axis": {"values": [48660,48680,48700,48720,48740,48760,48780,48800,48820], "labels": false, "title": null}}}}
  ]
},
{
  "width": 545, "height": 125,
  "title": {"text": "XMM-NEWTON - PN 500s"},
  "data": {"values": [
    {"x":0.7910,"y":-0.003,"e":0.057},{"x":0.7968,"y":0.025,"e":0.016},{"x":0.8026,"y":0.008,"e":0.010},{"x":0.8084,"y":0.015,"e":0.013},{"x":0.8141,"y":0.010,"e":0.010},{"x":0.8199,"y":0.015,"e":0.013},{"x":0.8257,"y":-0.003,"e":0.006},{"x":0.8315,"y":0.000,"e":0.006},{"x":0.8373,"y":0.010,"e":0.010},{"x":0.8431,"y":0.015,"e":0.013},
    {"x":0.8489,"y":0.025,"e":0.016},{"x":0.8547,"y":0.060,"e":0.024},{"x":0.8604,"y":0.035,"e":0.017},{"x":0.8662,"y":0.007,"e":0.010},{"x":0.8720,"y":0.035,"e":0.017},{"x":0.8778,"y":0.007,"e":0.010},{"x":0.8836,"y":0.035,"e":0.017},{"x":0.8894,"y":0.007,"e":0.010},{"x":0.8952,"y":0.010,"e":0.010},{"x":0.9010,"y":0.007,"e":0.010},
    {"x":0.9067,"y":0.015,"e":0.013},{"x":0.9125,"y":0.025,"e":0.016},{"x":0.9183,"y":0.015,"e":0.013},{"x":0.9241,"y":-0.003,"e":0.006},{"x":0.9299,"y":0.007,"e":0.010},{"x":0.9357,"y":0.000,"e":0.006},{"x":0.9415,"y":-0.003,"e":0.006},{"x":0.9472,"y":0.007,"e":0.010},{"x":0.9530,"y":-0.003,"e":0.006},{"x":0.9588,"y":0.007,"e":0.010},
    {"x":0.9646,"y":0.025,"e":0.016},{"x":0.9704,"y":0.020,"e":0.013},{"x":0.9762,"y":-0.003,"e":0.006},{"x":0.9820,"y":-0.003,"e":0.006},{"x":0.9878,"y":-0.003,"e":0.006},{"x":0.9935,"y":0.025,"e":0.016},{"x":0.9993,"y":-0.003,"e":0.006},{"x":1.0051,"y":0.015,"e":0.013},{"x":1.0109,"y":0.015,"e":0.013},{"x":1.0167,"y":0.010,"e":0.010},
    {"x":1.0225,"y":-0.003,"e":0.006},{"x":1.0283,"y":0.007,"e":0.010},{"x":1.0341,"y":0.010,"e":0.010},{"x":1.0398,"y":0.007,"e":0.010},{"x":1.0456,"y":0.015,"e":0.013},{"x":1.0514,"y":0.007,"e":0.010},{"x":1.0572,"y":-0.003,"e":0.006},{"x":1.0630,"y":-0.003,"e":0.006},{"x":1.0688,"y":-0.005,"e":0.012},{"x":1.0746,"y":-0.003,"e":0.006},
    {"x":1.0804,"y":0.025,"e":0.016},{"x":1.0861,"y":0.025,"e":0.016},{"x":1.0919,"y":0.015,"e":0.013},{"x":1.0977,"y":0.015,"e":0.013},{"x":1.1035,"y":-0.003,"e":0.006},{"x":1.1093,"y":0.007,"e":0.010},{"x":1.1151,"y":-0.003,"e":0.006},{"x":1.1209,"y":0.007,"e":0.010},{"x":1.1266,"y":-0.003,"e":0.006},{"x":1.1324,"y":-0.003,"e":0.006},
    {"x":1.1382,"y":0.007,"e":0.010},{"x":1.1440,"y":-0.003,"e":0.006},{"x":1.1498,"y":-0.003,"e":0.006},{"x":1.1556,"y":-0.003,"e":0.006},{"x":1.1614,"y":-0.003,"e":0.006},{"x":1.1672,"y":0.015,"e":0.013},{"x":1.1729,"y":0.007,"e":0.010},{"x":1.1787,"y":-0.003,"e":0.006},{"x":1.1845,"y":0.007,"e":0.010},{"x":1.1903,"y":-0.003,"e":0.006},
    {"x":1.1961,"y":0.007,"e":0.010},{"x":1.2019,"y":-0.003,"e":0.006},{"x":1.2077,"y":0.005,"e":0.010},{"x":1.2135,"y":0.025,"e":0.016},{"x":1.2192,"y":0.020,"e":0.016},{"x":1.2250,"y":0.008,"e":0.010},{"x":1.2308,"y":0.010,"e":0.012},{"x":1.2366,"y":0.012,"e":0.012},{"x":1.2424,"y":0.005,"e":0.012},{"x":1.2482,"y":-0.005,"e":0.010},
    {"x":1.2540,"y":0.020,"e":0.018},{"x":1.2597,"y":0.030,"e":0.020},{"x":1.2655,"y":0.030,"e":0.020},{"x":1.2713,"y":0.028,"e":0.020},{"x":1.2771,"y":-0.005,"e":0.010},{"x":1.2829,"y":-0.020,"e":0.006},{"x":1.2887,"y":-0.020,"e":0.006},{"x":1.2945,"y":-0.005,"e":0.020},{"x":1.3003,"y":0.005,"e":0.020},{"x":1.3060,"y":0.000,"e":0.020},
    {"x":1.3118,"y":-0.002,"e":0.020},{"x":1.3176,"y":0.005,"e":0.018},{"x":1.3234,"y":0.000,"e":0.018},{"x":1.3292,"y":-0.010,"e":0.015},{"x":1.3350,"y":0.005,"e":0.015},{"x":1.3408,"y":-0.010,"e":0.012},{"x":1.3466,"y":0.015,"e":0.018},{"x":1.3523,"y":0.010,"e":0.015},{"x":1.3581,"y":0.022,"e":0.018},{"x":1.3639,"y":0.032,"e":0.020},
    {"x":1.3697,"y":0.005,"e":0.015},{"x":1.3755,"y":-0.008,"e":0.013},{"x":1.3813,"y":0.020,"e":0.018},{"x":1.3871,"y":0.015,"e":0.015},{"x":1.3928,"y":0.010,"e":0.013},{"x":1.3986,"y":-0.003,"e":0.006},{"x":1.4044,"y":-0.003,"e":0.006},{"x":1.4102,"y":-0.003,"e":0.006},{"x":1.4160,"y":-0.003,"e":0.006},{"x":1.4218,"y":-0.003,"e":0.006},
    {"x":1.4276,"y":-0.003,"e":0.006},{"x":1.4334,"y":0.000,"e":0.006},{"x":1.4391,"y":-0.003,"e":0.006},{"x":1.4449,"y":-0.003,"e":0.006},{"x":1.4507,"y":-0.003,"e":0.006},{"x":1.4565,"y":-0.005,"e":0.006},{"x":1.4623,"y":-0.003,"e":0.006},{"x":1.4681,"y":0.015,"e":0.015},{"x":1.4739,"y":0.005,"e":0.010},{"x":1.4797,"y":0.020,"e":0.017},
    {"x":1.4854,"y":0.025,"e":0.016},{"x":1.4912,"y":0.020,"e":0.016},{"x":1.4970,"y":-0.010,"e":0.010},{"x":1.5028,"y":-0.005,"e":0.006},{"x":1.5086,"y":0.035,"e":0.017},{"x":1.5144,"y":0.020,"e":0.017},{"x":1.5202,"y":-0.005,"e":0.006},{"x":1.5259,"y":0.030,"e":0.020},{"x":1.5317,"y":0.035,"e":0.020},{"x":1.5375,"y":0.042,"e":0.022},
    {"x":1.5433,"y":0.012,"e":0.015},{"x":1.5491,"y":0.000,"e":0.010},{"x":1.5549,"y":0.000,"e":0.010},{"x":1.5607,"y":0.015,"e":0.013},{"x":1.5665,"y":0.010,"e":0.010},{"x":1.5722,"y":0.005,"e":0.010},{"x":1.5780,"y":0.010,"e":0.010},{"x":1.5838,"y":0.003,"e":0.010},{"x":1.5896,"y":0.025,"e":0.016},{"x":1.5954,"y":0.025,"e":0.016},
    {"x":1.6012,"y":0.030,"e":0.020},{"x":1.6070,"y":0.025,"e":0.016},{"x":1.6128,"y":0.060,"e":0.024},{"x":1.6185,"y":0.035,"e":0.020},{"x":1.6243,"y":0.030,"e":0.016},{"x":1.6301,"y":0.025,"e":0.016},{"x":1.6359,"y":0.007,"e":0.010},{"x":1.6417,"y":0.007,"e":0.010},{"x":1.6475,"y":0.053,"e":0.022},{"x":1.6533,"y":0.020,"e":0.016},
    {"x":1.6590,"y":0.025,"e":0.016},{"x":1.6648,"y":0.020,"e":0.016},{"x":1.6706,"y":0.005,"e":0.010},{"x":1.6764,"y":0.025,"e":0.016},{"x":1.6822,"y":0.045,"e":0.022},{"x":1.6880,"y":0.052,"e":0.022},{"x":1.6938,"y":0.025,"e":0.016},{"x":1.6996,"y":0.015,"e":0.013},{"x":1.7053,"y":0.020,"e":0.013},{"x":1.7111,"y":0.005,"e":0.010},
    {"x":1.7169,"y":0.000,"e":0.008},{"x":1.7227,"y":0.010,"e":0.010},{"x":1.7285,"y":0.003,"e":0.010},{"x":1.7343,"y":0.000,"e":0.010},{"x":1.7401,"y":0.002,"e":0.013}
  ]},
  "resolve": {"axis": {"x": "independent", "y": "independent"}},
  "layer": [
    {"mark": {"type": "errorbar", "color": "#444", "thickness": 1, "ticks": {"size": 7, "color": "#444"}},
     "encoding": {
       "x": {"field": "x", "type": "quantitative", "scale": {"domain": [0.6, 1.8], "nice": false, "zero": false}, "axis": {"values": [0.6,0.8,1.0,1.2,1.4,1.6,1.8], "labels": false, "ticks": false, "title": null}},
       "y": {"field": "y", "type": "quantitative", "scale": {"domain": [-0.06, 0.1], "nice": false, "zero": false}, "axis": {"values": [-0.06,-0.04,-0.02,0,0.02,0.04,0.06,0.08,0.1], "format": ".2f", "ticks": false, "title": null}},
       "yError": {"field": "e"}}},
    {"mark": {"type": "point", "shape": "M-1,0H1M0,-1V1", "filled": false, "size": 36, "color": "black", "strokeWidth": 1.2, "opacity": 1},
     "encoding": {
       "x": {"field": "x", "type": "quantitative", "axis": {"orient": "top", "values": [0.6,0.8,1.0,1.2,1.4,1.6,1.8], "labels": false, "title": null}},
       "y": {"field": "y", "type": "quantitative", "axis": {"orient": "right", "values": [-0.06,-0.04,-0.02,0,0.02,0.04,0.06,0.08,0.1], "labels": false, "title": null}}}},
    {"mark": {"type": "point", "opacity": 0},
     "encoding": {
       "x": {"field": "x", "type": "quantitative", "axis": {"values": [0.6,0.8,1.0,1.2,1.4,1.6,1.8], "labels": false, "title": null}},
       "y": {"field": "y", "type": "quantitative", "axis": {"values": [-0.06,-0.04,-0.02,0,0.02,0.04,0.06,0.08,0.1], "labels": false, "title": null}}}}
  ]
},
{
  "width": 545, "height": 125,
  "title": {"text": "XMM-NEWTON PN - BB"},
  "data": {"values": [
    {"x":0.8500,"y":0.0224,"e":0.0033,"xe":0.0550},{"x":1.1985,"y":0.0061,"e":0.00125,"xe":0.2935},{"x":1.6195,"y":0.01715,"e":0.0022,"xe":0.1275}
  ]},
  "resolve": {"axis": {"x": "independent", "y": "independent"}},
  "layer": [
    {"mark": {"type": "errorbar", "color": "#333", "thickness": 1, "ticks": {"size": 9, "color": "#333"}},
     "encoding": {
       "x": {"field": "x", "type": "quantitative", "scale": {"domain": [0.6, 1.8], "nice": false, "zero": false}, "axis": {"values": [0.6,0.8,1.0,1.2,1.4,1.6,1.8], "format": ".1f", "ticks": false, "labelPadding": 5, "title": "TIME(d)", "titleX": 272.5, "titleY": 20, "titleAlign": "center", "titleBaseline": "top", "titleFontSize": 14}},
       "y": {"field": "y", "type": "quantitative", "scale": {"domain": [0.005, 0.03], "nice": false, "zero": false}, "axis": {"values": [0.005,0.01,0.015,0.02,0.025,0.03], "format": ".3f", "ticks": false, "title": null}},
       "yError": {"field": "e"}}},
    {"mark": {"type": "errorbar", "color": "#333", "thickness": 1, "ticks": {"size": 9, "color": "#333"}},
     "encoding": {
       "x": {"field": "x", "type": "quantitative", "axis": {"orient": "top", "values": [0.6,0.8,1.0,1.2,1.4,1.6,1.8], "labels": false, "title": null}},
       "xError": {"field": "xe"},
       "y": {"field": "y", "type": "quantitative", "axis": {"orient": "right", "values": [0.005,0.01,0.015,0.02,0.025,0.03], "labels": false, "title": null}}}},
    {"mark": {"type": "point", "opacity": 0},
     "encoding": {
       "x": {"field": "x", "type": "quantitative", "axis": {"values": [0.6,0.8,1.0,1.2,1.4,1.6,1.8], "labels": false, "title": "+2.455735e6", "titleX": 556, "titleY": 20, "titleAlign": "right", "titleBaseline": "top", "titleFontSize": 14, "titleFontWeight": "bold"}},
       "y": {"field": "y", "type": "quantitative", "axis": {"values": [0.005,0.01,0.015,0.02,0.025,0.03], "labels": false, "title": null}}}}
  ]
}
],
"spacing": 24,
"bounds": "flush"
}
